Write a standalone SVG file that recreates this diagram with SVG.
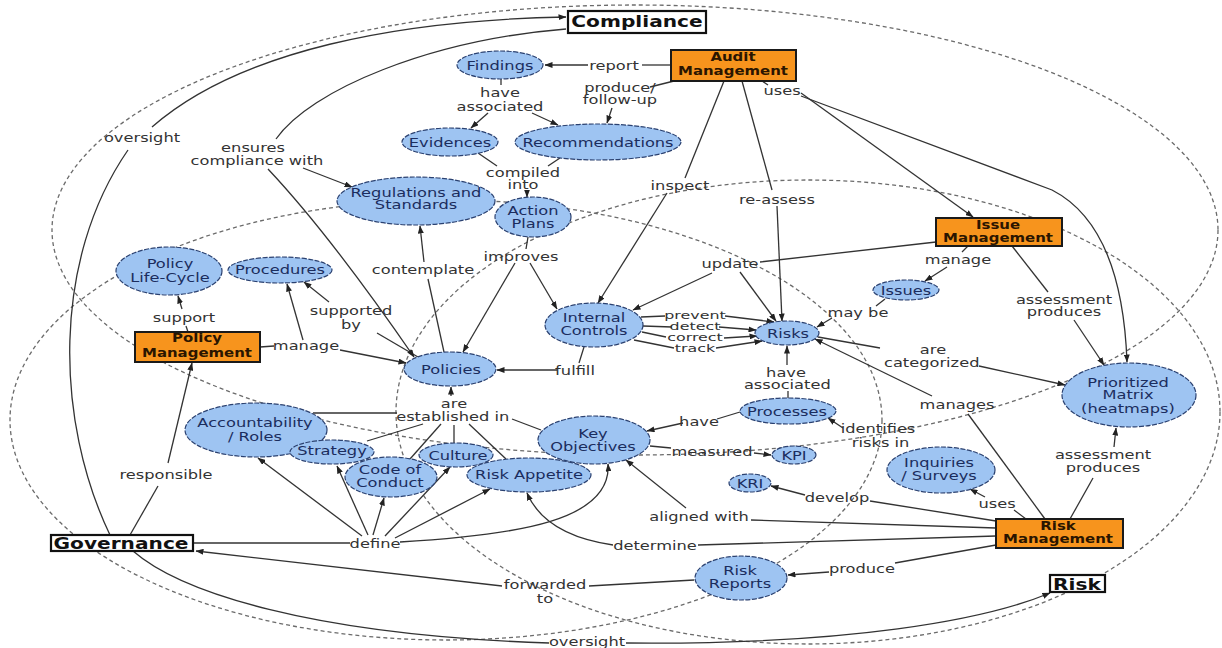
<svg xmlns="http://www.w3.org/2000/svg" width="1222" height="648" viewBox="0 0 1222 648">
<style>
.rg{fill:none;stroke:#6b6b6b;stroke-width:1.3;stroke-dasharray:4 3}
.c path{fill:none;stroke:#333;stroke-width:1.3}
.c .ar{marker-end:url(#a)}
.el{fill:#9ec4f2;stroke:#2b4170;stroke-width:1.2;stroke-dasharray:5 1.5}
.ob{fill:#f7941d;stroke:#1a1a1a;stroke-width:2}
.bx{fill:#fff;stroke:#111;stroke-width:2.2}
text{font-family:"DejaVu Sans","Liberation Sans",sans-serif;text-anchor:middle}
.lb text{font-size:12.5px;fill:#333}
.lb text.sm{font-size:9.8px}
.nt{font-size:12.5px;fill:#1b2d5e}
.ot{font-size:11.5px;font-weight:bold;fill:#2a1500}
.bt{font-size:15.5px;font-weight:bold;fill:#111}
</style>
<defs>
<marker id="a" markerWidth="8" markerHeight="6" refX="7.5" refY="3" orient="auto" markerUnits="userSpaceOnUse"><path d="M0 0 L8 3 L0 6 z" fill="#222"/></marker>
</defs>
<rect width="1222" height="648" fill="#fff"/>
<g id="regions">
<ellipse class="rg" cx="635" cy="230" rx="583" ry="225"/>
<ellipse class="rg" cx="446" cy="420" rx="436" ry="220"/>
<ellipse class="rg" cx="808" cy="412" rx="412" ry="232"/>
</g>
<g id="connectors" class="c">
<path d="M671 65 H642"/><path class="ar" d="M588 65 H545"/>
<path d="M674 81 L650 87"/><path class="ar" d="M612 108 L607 123"/>
<path d="M501 79 V85"/><path class="ar" d="M488 113 L471 128"/><path class="ar" d="M532 113 L558 125"/>
<path d="M478 153 L497 166"/><path d="M560 158 L548 166"/><path class="ar" d="M527 191 L527 197"/>
<path d="M528 237 L526 249"/><path class="ar" d="M530 263 L557 309"/><path class="ar" d="M515 263 L463 352"/>
<path d="M724 81 L685 178"/><path class="ar" d="M667 193 L598 303"/>
<path d="M742 81 L772 190"/><path class="ar" d="M777 206 L782 321"/>
<path d="M762 81 L768 85"/><path class="ar" d="M801 93 L973 217"/><path class="ar" d="M801 96 L1052 190 Q1122 226 1127 362"/>
<path d="M936 242 L760 262"/><path class="ar" d="M712 273 L633 310"/><path class="ar" d="M740 272 L776 321"/>
<path d="M968 246 L962 252"/><path class="ar" d="M947 267 L925 281"/>
<path d="M885 299 L876 306"/><path class="ar" d="M832 318 L817 327"/>
<path d="M1012 246 L1048 292"/><path class="ar" d="M1074 320 L1104 365"/>
<path d="M641 317 L665 316"/><path class="ar" d="M725 316 L774 322"/>
<path d="M643 326 L672 327"/><path class="ar" d="M719 327 L756 330"/>
<path d="M642 332 L666 337"/><path class="ar" d="M724 338 L757 336"/>
<path d="M634 340 L674 348"/><path class="ar" d="M716 348 L762 341"/>
<path d="M584 347 L579 363"/><path class="ar" d="M557 370 L497 370"/>
<path d="M818 337 L880 348"/><path class="ar" d="M979 366 L1065 385"/>
<path d="M1045 519 L968 414"/><path class="ar" d="M932 396 L815 339"/>
<path d="M788 398 L788 391"/><path class="ar" d="M787 365 L787 346"/>
<path d="M740 412 L717 419"/><path class="ar" d="M683 423 L647 431"/>
<path d="M650 446 L671 448"/><path class="ar" d="M754 453 L771 455"/>
<path class="ar" d="M843 428 L828 418"/>
<path d="M996 521 L870 501"/><path class="ar" d="M805 495 L771 486"/>
<path d="M996 528 L751 520"/><path class="ar" d="M686 508 L626 460"/>
<path d="M996 536 L698 545"/><path class="ar" d="M613 545 Q545 535 527 493"/>
<path d="M193 543 L350 543"/>
<path class="ar" d="M362 536 L258 458"/><path class="ar" d="M368 535 L337 466"/><path class="ar" d="M373 535 L384 498"/>
<path class="ar" d="M385 536 L450 467"/><path class="ar" d="M395 538 L490 489"/><path class="ar" d="M400 542 C520 535 612 520 608 464"/>
<path d="M694 580 L589 586"/><path class="ar" d="M502 586 L196 551"/>
<path d="M996 545 L895 563"/><path class="ar" d="M829 572 L788 575"/>
<path d="M1026 519 L1014 510"/><path class="ar" d="M985 497 L970 489"/>
<path d="M1070 519 L1093 478"/><path class="ar" d="M1114 447 L1116 428"/>
<path d="M133 551 C180 592 310 635 549 643"/><path class="ar" d="M626 643 C850 645 985 620 1050 593"/>
<path d="M110 535 C55 420 52 260 128 150"/><path class="ar" d="M152 127 C240 50 400 20 566 17"/>
<path d="M130 535 L158 486"/><path class="ar" d="M168 463 L192 363"/>
<path d="M188 332 L186 326"/><path class="ar" d="M182 309 L178 296"/>
<path d="M260 347 L274 346"/><path class="ar" d="M303 340 L287 284"/><path class="ar" d="M340 350 L406 363"/>
<path d="M418 357 L377 333"/><path class="ar" d="M329 302 L304 282"/>
<path d="M444 352 L428 279"/><path class="ar" d="M424 262 L420 226"/>
<path class="ar" d="M451 396 L451 387"/>
<path d="M313 413 L397 413"/><path d="M367 441 L423 424"/><path d="M410 459 L441 424"/>
<path d="M454 443 L454 425"/><path d="M506 459 L469 424"/><path d="M541 430 L512 419"/>
<path d="M566 29 C430 40 310 90 276 139"/><path class="ar" d="M303 168 L352 187"/><path class="ar" d="M268 169 Q330 235 414 357"/>
</g>
<g id="link-labels" class="lb">
<text transform="translate(614 69.5) scale(1.3 1)">report</text>
<text transform="translate(500 96.5) scale(1.3 1)">have<tspan x="0" dy="15">associated</tspan></text>
<text transform="translate(620 91.5) scale(1.3 1)">produce/<tspan x="0" dy="13">follow-up</tspan></text>
<text transform="translate(523 176.5) scale(1.3 1)">compiled<tspan x="0" dy="13">into</tspan></text>
<text transform="translate(680 189.5) scale(1.3 1)">inspect</text>
<text transform="translate(777 203.5) scale(1.3 1)">re-assess</text>
<text transform="translate(782 94.5) scale(1.3 1)">uses</text>
<text transform="translate(253 151.5) scale(1.3 1)">ensures<tspan x="3" dy="14">compliance with</tspan></text>
<text transform="translate(142 141.5) scale(1.3 1)">oversight</text>
<text transform="translate(423 273.5) scale(1.3 1)">contemplate</text>
<text transform="translate(521 260.5) scale(1.3 1)">improves</text>
<text transform="translate(730 267.5) scale(1.3 1)">update</text>
<text transform="translate(958 263.5) scale(1.3 1)">manage</text>
<text transform="translate(858 316.5) scale(1.3 1)">may be</text>
<text transform="translate(1064 303.5) scale(1.3 1)">assessment<tspan x="0" dy="13">produces</tspan></text>
<text class="sm" transform="translate(695 318.5) scale(1.62 1)">prevent</text>
<text class="sm" transform="translate(695 329.5) scale(1.62 1)">detect</text>
<text class="sm" transform="translate(695 340.5) scale(1.62 1)">correct</text>
<text class="sm" transform="translate(695 351.5) scale(1.62 1)">track</text>
<text transform="translate(575 374.5) scale(1.3 1)">fulfill</text>
<text transform="translate(786 376.5) scale(1.3 1)">have<tspan x="1" dy="13">associated</tspan></text>
<text transform="translate(699 425.5) scale(1.3 1)">have</text>
<text transform="translate(878 432.5) scale(1.3 1)">identifies<tspan x="2" dy="15">risks in</tspan></text>
<text transform="translate(712 455.5) scale(1.3 1)">measured</text>
<text transform="translate(837 501.5) scale(1.3 1)">develop</text>
<text transform="translate(997 507.5) scale(1.3 1)">uses</text>
<text transform="translate(1103 458.5) scale(1.3 1)">assessment<tspan x="0" dy="14">produces</tspan></text>
<text transform="translate(933 353.5) scale(1.3 1)">are<tspan x="-1" dy="14">categorized</tspan></text>
<text transform="translate(957 408.5) scale(1.3 1)">manages</text>
<text transform="translate(862 572.5) scale(1.3 1)">produce</text>
<text transform="translate(545 588.5) scale(1.3 1)">forwarded<tspan x="0" dy="15">to</tspan></text>
<text transform="translate(587 646) scale(1.3 1)">oversight</text>
<text transform="translate(655 549.5) scale(1.3 1)">determine</text>
<text transform="translate(699 520.5) scale(1.3 1)">aligned with</text>
<text transform="translate(375 547.5) scale(1.3 1)">define</text>
<text transform="translate(166 478.5) scale(1.3 1)">responsible</text>
<text transform="translate(184 321.5) scale(1.3 1)">support</text>
<text transform="translate(306 349.5) scale(1.3 1)">manage</text>
<text transform="translate(351 314.5) scale(1.3 1)">supported<tspan x="0" dy="15">by</tspan></text>
<text transform="translate(454 407.5) scale(1.3 1)">are<tspan x="-1" dy="14">established in</tspan></text>
</g>
<g id="compliance"><rect class="bx" x="568" y="11" width="138" height="22"/><text class="bt" transform="translate(637 26.5) scale(1.3 1)">Compliance</text></g>
<g id="governance"><rect class="bx" x="51" y="535" width="142" height="16"/><text class="bt" transform="translate(121 548.5) scale(1.3 1)">Governance</text></g>
<g id="risk"><rect class="bx" x="1050" y="575" width="55" height="17"/><text class="bt" transform="translate(1077 589.5) scale(1.3 1)">Risk</text></g>
<g id="audit-management"><rect class="ob" x="671" y="50" width="125" height="31"/><text class="ot" transform="translate(733 61) scale(1.3 1)">Audit<tspan x="0" dy="14">Management</tspan></text></g>
<g id="issue-management"><rect class="ob" x="936" y="218" width="126" height="28"/><text class="ot" transform="translate(998 229) scale(1.3 1)">Issue<tspan x="0" dy="13">Management</tspan></text></g>
<g id="policy-management"><rect class="ob" x="135" y="332" width="125" height="30"/><text class="ot" transform="translate(197 342) scale(1.3 1)">Policy<tspan x="0" dy="15">Management</tspan></text></g>
<g id="risk-management"><rect class="ob" x="996" y="519" width="127" height="29"/><text class="ot" transform="translate(1058 530) scale(1.3 1)">Risk<tspan x="0" dy="13">Management</tspan></text></g>
<g id="findings"><ellipse class="el" cx="500" cy="65" rx="43" ry="14"/><text class="nt" transform="translate(500 69.5) scale(1.3 1)">Findings</text></g>
<g id="evidences"><ellipse class="el" cx="450" cy="142" rx="48" ry="14"/><text class="nt" transform="translate(450 146.5) scale(1.3 1)">Evidences</text></g>
<g id="recommendations"><ellipse class="el" cx="598" cy="142" rx="83" ry="18"/><text class="nt" transform="translate(598 146.5) scale(1.3 1)">Recommendations</text></g>
<g id="regulations"><ellipse class="el" cx="416" cy="201" rx="79" ry="24"/><text class="nt" transform="translate(416 196.5) scale(1.3 1)">Regulations and<tspan x="0" dy="13">Standards</tspan></text></g>
<g id="action-plans"><ellipse class="el" cx="533" cy="217" rx="38" ry="20"/><text class="nt" transform="translate(533 214.5) scale(1.3 1)">Action<tspan x="0" dy="14">Plans</tspan></text></g>
<g id="policy-life-cycle"><ellipse class="el" cx="169" cy="271" rx="53" ry="24"/><text class="nt" transform="translate(170 267.5) scale(1.3 1)">Policy<tspan x="0" dy="15">Life-Cycle</tspan></text></g>
<g id="procedures"><ellipse class="el" cx="280" cy="270" rx="52" ry="13"/><text class="nt" transform="translate(280 273.5) scale(1.3 1)">Procedures</text></g>
<g id="internal-controls"><ellipse class="el" cx="594" cy="325" rx="49" ry="22"/><text class="nt" transform="translate(594 321.5) scale(1.3 1)">Internal<tspan x="0" dy="14">Controls</tspan></text></g>
<g id="risks"><ellipse class="el" cx="787" cy="333" rx="32" ry="12"/><text class="nt" transform="translate(788 338) scale(1.3 1)">Risks</text></g>
<g id="issues"><ellipse class="el" cx="906" cy="290" rx="33" ry="10"/><text class="nt" transform="translate(906 294.5) scale(1.3 1)">Issues</text></g>
<g id="prioritized-matrix"><ellipse class="el" cx="1129" cy="395" rx="67" ry="32"/><text class="nt" transform="translate(1128 386.5) scale(1.3 1)">Prioritized<tspan x="0" dy="13">Matrix</tspan><tspan x="0" dy="14">(heatmaps)</tspan></text></g>
<g id="policies"><ellipse class="el" cx="450" cy="369" rx="46" ry="17"/><text class="nt" transform="translate(451 373.5) scale(1.3 1)">Policies</text></g>
<g id="processes"><ellipse class="el" cx="788" cy="411" rx="48" ry="13"/><text class="nt" transform="translate(787 415.5) scale(1.3 1)">Processes</text></g>
<g id="accountability"><ellipse class="el" cx="256" cy="430" rx="71" ry="27"/><text class="nt" transform="translate(255 426.5) scale(1.3 1)">Accountability<tspan x="0" dy="15">/ Roles</tspan></text></g>
<g id="strategy"><ellipse class="el" cx="332" cy="452" rx="42" ry="12"/><text class="nt" transform="translate(332 455) scale(1.3 1)">Strategy</text></g>
<g id="code-of-conduct"><ellipse class="el" cx="391" cy="477" rx="46" ry="20"/><text class="nt" transform="translate(390 473.5) scale(1.3 1)">Code of<tspan x="0" dy="14">Conduct</tspan></text></g>
<g id="culture"><ellipse class="el" cx="456" cy="455" rx="37" ry="12"/><text class="nt" transform="translate(458 459.5) scale(1.3 1)">Culture</text></g>
<g id="key-objectives"><ellipse class="el" cx="594" cy="440" rx="56" ry="24"/><text class="nt" transform="translate(593 437.5) scale(1.3 1)">Key<tspan x="0" dy="14">Objectives</tspan></text></g>
<g id="risk-appetite"><ellipse class="el" cx="529" cy="475" rx="62" ry="17"/><text class="nt" transform="translate(529 479) scale(1.3 1)">Risk Appetite</text></g>
<g id="kpi"><ellipse class="el" cx="794" cy="455" rx="22" ry="9"/><text class="nt" transform="translate(794 459.5) scale(1.3 1)">KPI</text></g>
<g id="kri"><ellipse class="el" cx="750" cy="483" rx="21" ry="9"/><text class="nt" transform="translate(750 487.5) scale(1.3 1)">KRI</text></g>
<g id="inquiries"><ellipse class="el" cx="941" cy="470" rx="54" ry="23"/><text class="nt" transform="translate(939 466.5) scale(1.3 1)">Inquiries<tspan x="0" dy="14">/ Surveys</tspan></text></g>
<g id="risk-reports"><ellipse class="el" cx="741" cy="578" rx="46" ry="22"/><text class="nt" transform="translate(740 574.5) scale(1.3 1)">Risk<tspan x="0" dy="14">Reports</tspan></text></g>
</svg>
